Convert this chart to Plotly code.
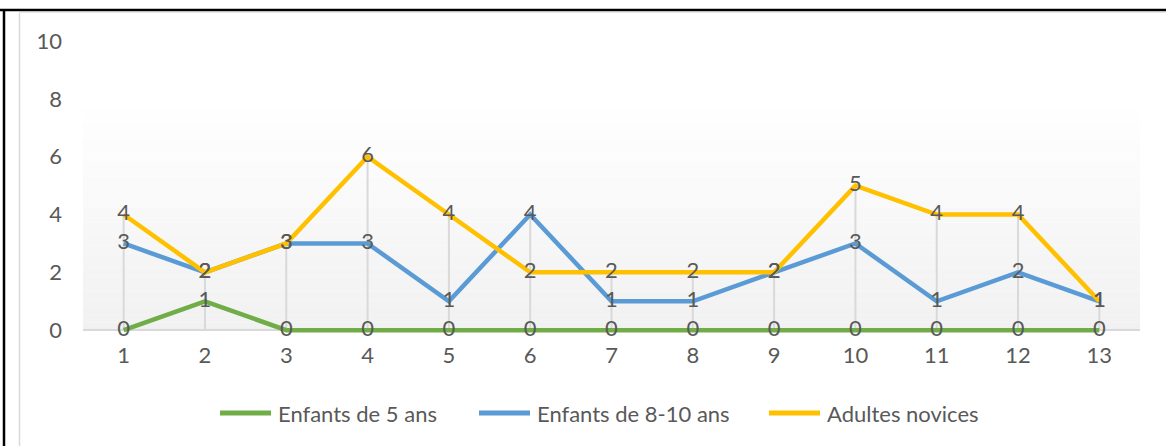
import plotly.graph_objects as go

# Data
categories = list(range(1, 14))
enfants_5 = [0, 1, 0, 0, 0, 0, 0, 0, 0, 0, 0, 0, 0]
enfants_8_10 = [3, 2, 3, 3, 1, 4, 1, 1, 2, 3, 1, 2, 1]
adultes = [4, 2, 3, 6, 4, 2, 2, 2, 2, 5, 4, 4, 1]
y_ticks = [0, 2, 4, 6, 8, 10]

series_names = ["Enfants de 5 ans", "Enfants de 8-10 ans", "Adultes novices"]
series_values = [enfants_5, enfants_8_10, adultes]
series_colors = ["#70ad47", "#5b9bd5", "#ffc000"]

FONT = "Lato, 'Open Sans', sans-serif"
TXT = "#595959"
W, H = 1166, 446
L, R, T, B = 83, 26, 41, 110
PW, PH = W - L - R, H - T - B


def px_x(p):
    return (p - L) / PW


def px_y(p):
    return (H - B - p) / PH


fig = go.Figure()

# Drop lines from the highest point of each category down to the axis
drop_x, drop_y = [], []
for i, c in enumerate(categories):
    top = max(vals[i] for vals in series_values)
    drop_x += [c, c, None]
    drop_y += [0, top, None]
fig.add_trace(go.Scatter(
    x=drop_x, y=drop_y, mode="lines",
    line=dict(color="#d9d9d9", width=2),
    showlegend=False, hoverinfo="skip"
))

# Series lines
for name, vals, color in zip(series_names, series_values, series_colors):
    fig.add_trace(go.Scatter(
        x=categories, y=vals, mode="lines", name=name,
        line=dict(color=color, width=4.5),
        showlegend=False,
    ))

# Data labels on top of every line
for name, vals in zip(series_names, series_values):
    fig.add_trace(go.Scatter(
        x=categories, y=vals, mode="text",
        text=[str(v) for v in vals],
        textposition="middle center",
        textfont=dict(family=FONT, size=22, color=TXT),
        showlegend=False, hoverinfo="skip", cliponaxis=False
    ))

# Gradient plot-area fill (white at top to light grey at bottom)
shapes = []
n_bands = 30
top_p, bot_p = px_y(100), px_y(330)
for k in range(n_bands):
    y0 = bot_p + (top_p - bot_p) * k / n_bands
    y1 = bot_p + (top_p - bot_p) * (k + 1) / n_bands
    g = round(241 + 14 * (k + 0.5) / n_bands)
    shapes.append(dict(
        type="rect", xref="paper", yref="paper",
        x0=0, x1=1, y0=y0, y1=y1,
        fillcolor=f"rgb({g},{g},{g})", line=dict(width=0), layer="below"
    ))

# Table-cell borders and chart-area border
shapes += [
    dict(type="line", xref="paper", yref="paper",
         x0=px_x(0), x1=px_x(W), y0=px_y(10), y1=px_y(10),
         line=dict(color="black", width=2.5)),
    dict(type="line", xref="paper", yref="paper",
         x0=px_x(4), x1=px_x(4), y0=px_y(9), y1=px_y(H),
         line=dict(color="black", width=2.5)),
    dict(type="line", xref="paper", yref="paper",
         x0=px_x(19.5), x1=px_x(19.5), y0=px_y(12.5), y1=px_y(H),
         line=dict(color="#d9d9d9", width=1.5)),
    dict(type="line", xref="paper", yref="paper",
         x0=px_x(19.5), x1=px_x(W), y0=px_y(12.5), y1=px_y(12.5),
         line=dict(color="#e6e6e6", width=1)),
]

# Legend drawn by hand (Excel-style long line keys)
annotations = []
legend_starts = [218, 477, 767]
legend_y = px_y(413)
for name, color, x0 in zip(series_names, series_colors, legend_starts):
    shapes.append(dict(
        type="line", xref="paper", yref="paper",
        x0=px_x(x0 + 2), x1=px_x(x0 + 53), y0=legend_y, y1=legend_y,
        line=dict(color=color, width=5)
    ))
    annotations.append(dict(
        xref="paper", yref="paper", x=px_x(x0 + 58), y=legend_y,
        xanchor="left", yanchor="middle", showarrow=False,
        text=name, font=dict(family=FONT, size=22, color=TXT)
    ))

fig.update_layout(
    width=W, height=H,
    margin=dict(l=L, r=R, t=T, b=B),
    paper_bgcolor="white",
    plot_bgcolor="rgba(0,0,0,0)",
    font=dict(family=FONT, size=22, color=TXT),
    shapes=shapes,
    annotations=annotations,
    xaxis=dict(
        range=[0.5, 13.5], tickmode="array", tickvals=categories,
        ticktext=[str(c) for c in categories],
        showgrid=False, zeroline=False, showline=False,
        ticks="", ticklabelstandoff=4,
        tickfont=dict(family=FONT, size=22, color=TXT),
    ),
    yaxis=dict(
        range=[-0.2, 10], tickmode="array", tickvals=y_ticks,
        showgrid=False, zeroline=True, zerolinecolor="#d9d9d9",
        zerolinewidth=1.5, showline=False,
        ticks="", ticklabelstandoff=20,
        tickfont=dict(family=FONT, size=22, color=TXT),
    ),
    showlegend=False,
)

fig.write_html(
    "out.html",
    config={"displayModeBar": False},
    post_script="document.body.style.margin='0';",
)
